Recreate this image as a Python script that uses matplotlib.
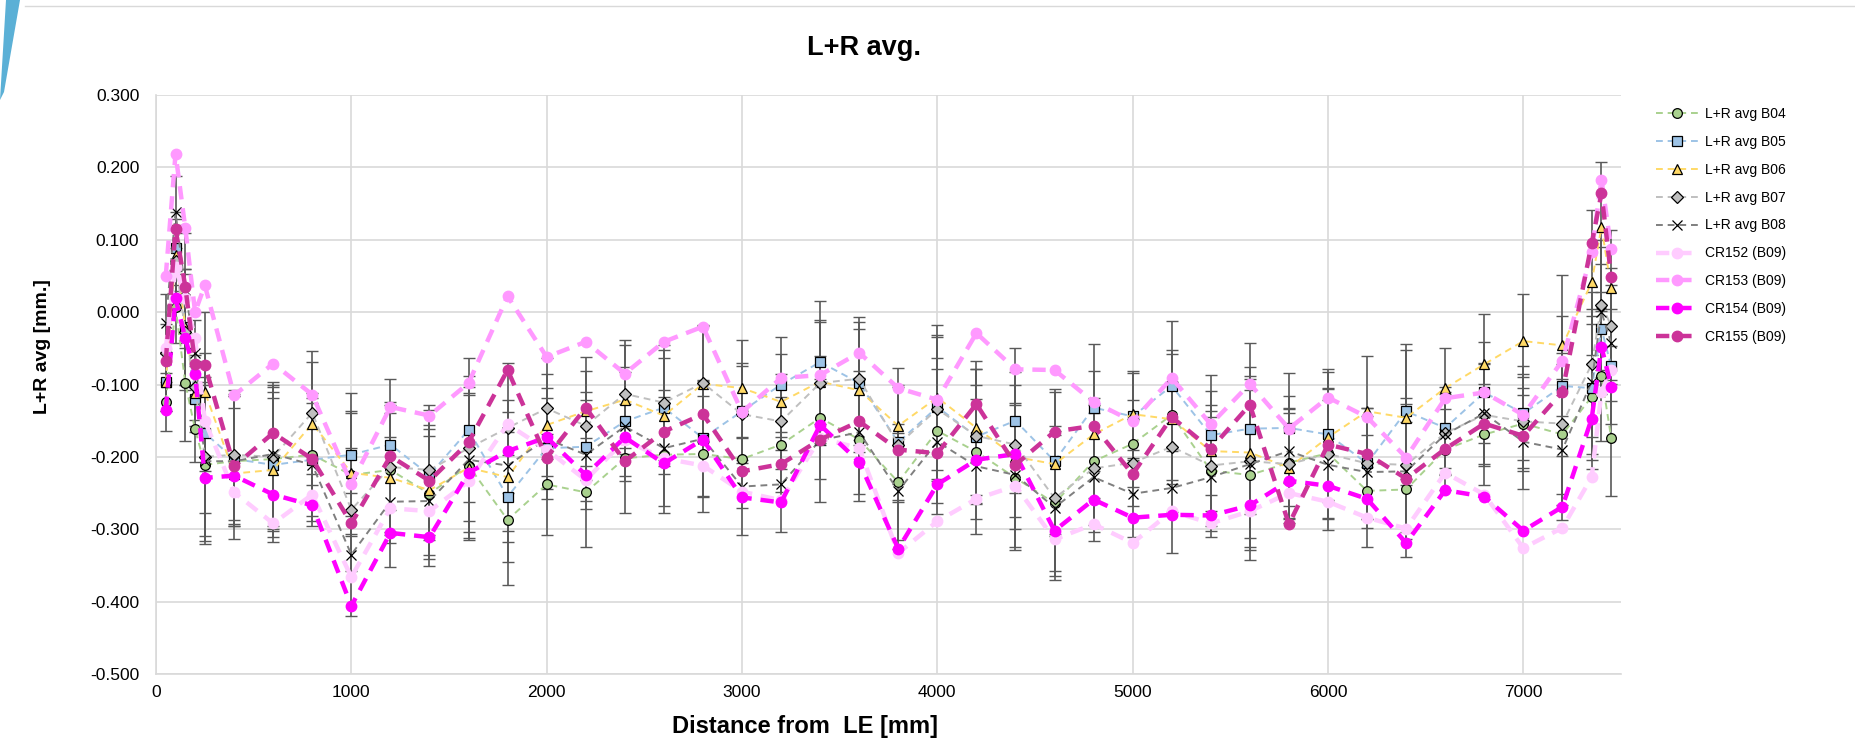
import numpy as np
import matplotlib.pyplot as plt
from matplotlib.patches import Polygon
from matplotlib.lines import Line2D

plt.rcParams['font.family'] = ['Liberation Sans', 'DejaVu Sans']

# distance from LE [mm]
dist = [50, 100, 150, 200, 250, 400, 600, 800, 1000, 1200, 1400, 1600, 1800, 2000,
        2200, 2400, 2600, 2800, 3000, 3200, 3400, 3600, 3800, 4000, 4200, 4400,
        4600, 4800, 5000, 5200, 5400, 5600, 5800, 6000, 6200, 6400, 6600, 6800,
        7000, 7200, 7350, 7400, 7450]

b04 = [-0.124, 0.007, -0.098, -0.162, -0.211, -0.206, -0.203, -0.197, -0.225, -0.218,
       -0.251, -0.212, -0.287, -0.238, -0.249, -0.202, -0.197, -0.196, -0.203, -0.183,
       -0.146, -0.176, -0.235, -0.164, -0.193, -0.229, -0.264, -0.206, -0.182, -0.142,
       -0.219, -0.225, -0.208, -0.195, -0.247, -0.245, -0.190, -0.169, -0.154, -0.169,
       -0.117, -0.088, -0.174]
b05 = [-0.097, 0.088, -0.020, -0.120, -0.167, -0.203, -0.211, -0.204, -0.197, -0.183,
       -0.225, -0.163, -0.255, -0.188, -0.186, -0.151, -0.132, -0.174, -0.137, -0.100,
       -0.069, -0.098, -0.180, -0.131, -0.172, -0.150, -0.206, -0.132, -0.144, -0.102,
       -0.170, -0.161, -0.160, -0.169, -0.209, -0.137, -0.160, -0.111, -0.140, -0.102,
       -0.105, -0.023, -0.075]
b06 = [-0.097, 0.079, -0.020, -0.112, -0.110, -0.223, -0.218, -0.154, -0.222, -0.229,
       -0.246, -0.215, -0.228, -0.156, -0.137, -0.121, -0.143, -0.099, -0.105, -0.124,
       -0.096, -0.108, -0.157, -0.118, -0.160, -0.200, -0.210, -0.169, -0.141, -0.148,
       -0.192, -0.194, -0.215, -0.173, -0.137, -0.146, -0.105, -0.072, -0.040, -0.046,
       0.041, 0.118, 0.033]
b07 = [-0.056, 0.070, -0.027, -0.104, -0.200, -0.197, -0.200, -0.139, -0.273, -0.214,
       -0.218, -0.188, -0.160, -0.133, -0.157, -0.113, -0.125, -0.098, -0.141, -0.151,
       -0.098, -0.092, -0.183, -0.134, -0.171, -0.183, -0.257, -0.216, -0.208, -0.186,
       -0.212, -0.206, -0.210, -0.196, -0.209, -0.211, -0.167, -0.142, -0.151, -0.154,
       -0.072, 0.010, -0.019]
b08 = [-0.015, 0.138, 0.030, -0.056, -0.206, -0.206, -0.196, -0.211, -0.335, -0.262,
       -0.261, -0.204, -0.212, -0.175, -0.197, -0.158, -0.188, -0.175, -0.241, -0.238,
       -0.177, -0.166, -0.247, -0.179, -0.213, -0.225, -0.270, -0.228, -0.251, -0.243,
       -0.228, -0.210, -0.192, -0.211, -0.221, -0.220, -0.169, -0.140, -0.179, -0.190,
       -0.096, 0.000, -0.043]
b_err = [0.040, 0.050, 0.080, 0.045, 0.110, 0.090, 0.100, 0.085, 0.085, 0.090,
         0.090, 0.100, 0.090, 0.070, 0.075, 0.075, 0.080, 0.080, 0.067, 0.066,
         0.085, 0.085, 0.080, 0.100, 0.093, 0.100, 0.100, 0.088, 0.060, 0.090,
         0.083, 0.118, 0.076, 0.090, 0.077, 0.093, 0.056, 0.070, 0.065, 0.097,
         0.100, 0.090, 0.080]

cr152 = [-0.050, 0.063, 0.019, -0.036, -0.150, -0.249, -0.292, -0.252, -0.366, -0.271,
         -0.275, -0.234, -0.155, -0.190, -0.232, -0.177, -0.202, -0.212, -0.248, -0.260,
         -0.174, -0.188, -0.333, -0.289, -0.258, -0.240, -0.314, -0.293, -0.319, -0.275,
         -0.292, -0.275, -0.250, -0.262, -0.284, -0.299, -0.222, -0.252, -0.326, -0.298,
         -0.228, -0.110, -0.080]
cr153 = [0.050, 0.219, 0.116, 0.000, 0.037, -0.115, -0.071, -0.114, -0.237, -0.131,
         -0.143, -0.098, 0.022, -0.062, -0.041, -0.085, -0.041, -0.020, -0.138, -0.091,
         -0.087, -0.056, -0.105, -0.121, -0.029, -0.079, -0.080, -0.124, -0.151, -0.091,
         -0.155, -0.099, -0.161, -0.118, -0.145, -0.201, -0.119, -0.111, -0.142, -0.067,
         0.083, 0.183, 0.087]
cr154 = [-0.135, 0.019, -0.036, -0.085, -0.229, -0.226, -0.252, -0.267, -0.406, -0.305,
         -0.311, -0.222, -0.192, -0.173, -0.225, -0.173, -0.209, -0.176, -0.256, -0.263,
         -0.156, -0.207, -0.327, -0.238, -0.204, -0.196, -0.302, -0.259, -0.284, -0.280,
         -0.281, -0.267, -0.233, -0.240, -0.258, -0.319, -0.246, -0.255, -0.302, -0.269,
         -0.147, -0.048, -0.103]
cr155 = [-0.068, 0.115, 0.035, -0.071, -0.073, -0.213, -0.167, -0.203, -0.292, -0.199,
         -0.233, -0.180, -0.080, -0.201, -0.132, -0.206, -0.165, -0.141, -0.220, -0.210,
         -0.176, -0.151, -0.190, -0.195, -0.127, -0.211, -0.165, -0.157, -0.224, -0.145,
         -0.189, -0.128, -0.293, -0.183, -0.196, -0.230, -0.189, -0.154, -0.171, -0.110,
         0.095, 0.164, 0.049]

y_ticks = [-0.5, -0.4, -0.3, -0.2, -0.1, 0.0, 0.1, 0.2, 0.3]
y_tick_labels = ['-0.500', '-0.400', '-0.300', '-0.200', '-0.100', '0.000', '0.100', '0.200', '0.300']

fig = plt.figure(figsize=(18.55, 7.45), dpi=100)
ax = fig.add_axes([156 / 1855, 1 - 674 / 745, (1621 - 156) / 1855, (674 - 95) / 745])

# measured series (thin dashed, black-edged markers, error bars)
b_series = [
    ('L+R avg B04', b04, '#a9d18e', 'o', '#a9d18e', 7),
    ('L+R avg B05', b05, '#9dc3e6', 's', '#9dc3e6', 7),
    ('L+R avg B06', b06, '#ffd966', '^', '#ffd966', 7.5),
    ('L+R avg B07', b07, '#bfbfbf', 'D', '#bfbfbf', 6),
    ('L+R avg B08', b08, '#7f7f7f', 'x', 'none', 7),
]
handles = []
for name, vals, col, mk, face, ms in b_series:
    ax.errorbar(dist, vals, yerr=b_err, fmt='none', ecolor='#595959',
                elinewidth=1.2, capsize=4, capthick=1.0, zorder=2)
for name, vals, col, mk, face, ms in b_series:
    ln, = ax.plot(dist, vals, color=col, lw=1.4, dashes=(3.5, 2.5),
                  marker=mk, markersize=ms, markerfacecolor=face,
                  markeredgecolor='black', markeredgewidth=0.9, zorder=3, label=name)
    handles.append(ln)

# CR series (thick dashed, filled dots)
cr_series = [
    ('CR152 (B09)', cr152, '#ffccff'),
    ('CR153 (B09)', cr153, '#ff99ff'),
    ('CR154 (B09)', cr154, '#ff00ff'),
    ('CR155 (B09)', cr155, '#cc3399'),
]
for name, vals, col in cr_series:
    ln, = ax.plot(dist, vals, color=col, lw=3.2, dashes=(3, 2),
                  marker='o', markersize=7.5, markerfacecolor=col,
                  markeredgecolor=col, zorder=4, label=name)
    handles.append(ln)

ax.set_xlim(0, 7500)
ax.set_ylim(-0.5, 0.3)
ax.set_xticks(np.arange(0, 7001, 1000))
ax.set_yticks(y_ticks)
ax.set_yticklabels(y_tick_labels)
ax.tick_params(length=0, labelsize=12.5)
ax.tick_params(axis='y', pad=12)
ax.tick_params(axis='x', pad=8)
ax.grid(True, color='#d9d9d9', lw=1.2)
ax.set_axisbelow(True)
for s in ['top', 'right']:
    ax.spines[s].set_visible(False)
for s in ['left', 'bottom']:
    ax.spines[s].set_color('#d9d9d9')
    ax.spines[s].set_linewidth(1.2)

fig.text(864 / 1855, 1 - 48 / 745, 'L+R avg.', fontsize=19.5, fontweight='bold',
         ha='center', va='center')
ax.set_ylabel('L+R avg [mm.]', fontsize=14, fontweight='bold')
ax.yaxis.set_label_coords(-0.072, 0.565)
ax.set_xlabel('Distance from  LE [mm]', fontsize=17, fontweight='bold')
ax.xaxis.set_label_coords(0.443, -0.07)

fig.legend(handles=handles, loc='upper left', bbox_to_anchor=(1649 / 1855, 1 - 100 / 745),
           frameon=False, fontsize=10, handlelength=3.0, labelspacing=1.0,
           handletextpad=0.5, borderpad=0)

# decorative page edges from the source slide
fig.add_artist(Polygon([(6 / 1855, 1.0), (20 / 1855, 1.0), (4 / 1855, 1 - 92 / 745), (0, 1 - 100 / 745)],
                       closed=True, transform=fig.transFigure, color='#5bb0d6', lw=0))
fig.add_artist(Line2D([25 / 1855, 1.0], [1 - 6 / 745, 1 - 6 / 745], transform=fig.transFigure,
                      color='#d9d9d9', lw=1))

fig.savefig('out.png', dpi=100)
